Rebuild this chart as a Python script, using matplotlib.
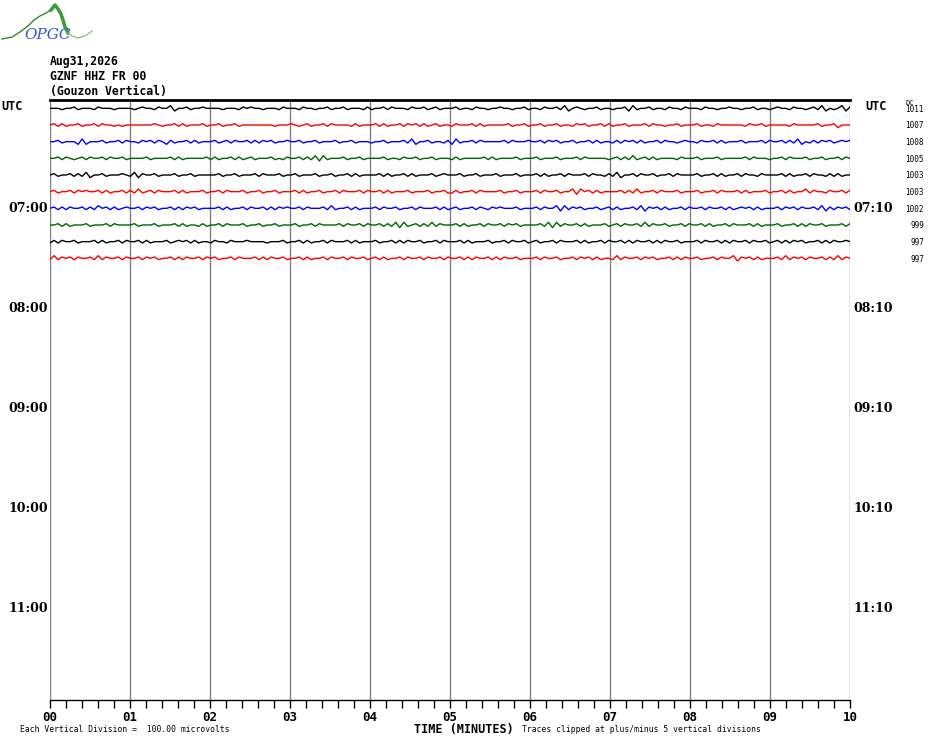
import numpy as np
import matplotlib
matplotlib.use('Agg')
import matplotlib.pyplot as plt
import matplotlib.transforms as mtransforms

# header text
date_txt = 'Aug31,2026'
station_txt = 'GZNF HHZ FR 00'
site_txt = '(Gouzon Vertical)'

# hour labels, one per 6 traces (10 min each)
left_hours = ['UTC', '07:00', '08:00', '09:00', '10:00', '11:00']
right_hours = ['UTC', '07:10', '08:10', '09:10', '10:10', '11:10']
n_rows = 36

# DC offset printed for each recorded line
dc_vals = [1011, 1007, 1008, 1005, 1003, 1003, 1002, 999, 997, 997]

minute_labels = ['00', '01', '02', '03', '04', '05', '06', '07', '08', '09', '10']

# trace colours cycle
trace_cols = ['black', 'red', 'blue', 'darkgreen']

# traces, one char per 3 s sample, 4 = zero line,
# each step = 8 microvolts
tr0 = ("44434453444354443444" "43454435446244534454" "44434443545443444354" "44354434453445344435"
       "34453544435445345344" "45344354434454434453" "44354453624543445344" "34452634453443544354"
       "44354434454434453443" "45443544345362434625")
tr1 = ("45353445344535443434" "44444454344535344453" "44534453444444443444" "54345344535444435344"
       "45353445354535345344" "35444535344444534453" "44534453443545344535" "34453444535443445344"
       "45344354444443544534" "44443544444534452444")
tr2 = ("44534442624445344535" "44354535425344535344" "45345354453535453445" "44534453444534453444"
       "34453444536244534435" "26344535444445354445" "44535453445344535344" "35354535344535443454"
       "43544535344453444535" "44535362435354534545")
tr3 = ("44535434535445354453" "44445344445353444445" "35344535345344453435" "44535362634445344534"
       "44453443544534453444" "35344444535344445344" "45344453444535444443" "45353634535344443544"
       "45344453444445354443" "44535444534453445354")
tr4 = ("45344535362445344454" "36254453444534453444" "44534453444535444534" "45344453445344535344"
       "44535344535344453454" "44534453444534445344" "45353445354445354435" "36244535445344535444"
       "45344535344535443544" "44535344535443535344")
tr5 = ("45344535454453534453" "53634535444535344453" "44535444534453445344" "45353445344535444535"
       "44535344453444534453" "35344535444453445344" "45354453446264535344" "44535363445354445344"
       "45344535444535344453" "44535344635443544535")
tr6 = ("45353544535364535345" "44535453445353545344" "44535344535445353545" "44535444536344535344"
       "45354453445354445353" "45344535435454445344" "45354462635453445345" "35344536254535344535"
       "44535445353454535344" "45354535445362535453")
tr7 = ("44535344453444535444" "45344453444535344353" "44535444534453445344" "45344535444453544535"
       "44535362634535363544" "45353445354453545344" "44536263544535344453" "45354453635445344535"
       "44535344535444535344" "45344535354453444535")
tr8 = ("35354453444535344535" "44535344453454535344" "35443544454444344453" "44535344535444535344"
       "45344535354453445354" "44535344453445354453" "45344535444535344535" "44535354453535445344"
       "45354453535445354453" "45353545344535354454")
tr9 = ("36354535445363544535" "44535453445353544535" "45344535444535354453" "44535344535445354453"
       "45353445354453544535" "44535354453535445344" "45354453445354535344" "36354453545344535354"
       "45344535446254535344" "45363545354453536354")
traces = [tr0, tr1, tr2, tr3, tr4, tr5, tr6, tr7, tr8, tr9]

# logo outline (OPGC mountain), pixel-ish units from the top-left corner
logo_x = [2, 12, 20, 28, 34, 40, 46, 51, 55, 58, 61, 63, 65, 68, 72, 78, 85, 92]
logo_y = [39, 37, 32, 26, 20, 16, 13, 10, 5, 9, 14, 20, 27, 33, 36, 38, 36, 31]

W, H = 930, 744
fig = plt.figure(figsize=(W / 100, H / 100), dpi=100)
ax = fig.add_axes([50 / W, 1 - 700 / H, 800 / W, 600 / H])
ax.set_xlim(0, 10)
ax.set_ylim(n_rows - 0.5, -0.5)

# minute grid lines
for m in range(11):
    ax.axvline(m, color='#808080', lw=1.0, zorder=1)

uv_per_div = 100.0
for i, s in enumerate(traces):
    amp = (np.array([int(c) for c in s]) - 4) * 8.0
    t = np.arange(len(amp)) * 10.0 / (len(amp) - 1)
    ax.plot(t, i - amp / uv_per_div, color=trace_cols[i % 4], lw=1.0, zorder=3)

for side in ['left', 'right']:
    ax.spines[side].set_visible(False)
ax.spines['top'].set_linewidth(2)
ax.spines['bottom'].set_linewidth(1)
ax.set_yticks([])
ax.set_xticks(range(11))
ax.set_xticklabels(minute_labels, fontsize=9, fontweight='bold', family='DejaVu Sans Mono')
ax.set_xticks(np.arange(0, 10.01, 0.2), minor=True)
ax.tick_params(axis='x', which='both', direction='out', length=6, width=1, pad=2)

# hour labels
trans = mtransforms.blended_transform_factory(fig.transFigure, ax.transData)
for k in range(6):
    row = 6 * k
    if k == 0:
        ax.text(1 / W, row - 0.1, left_hours[k], transform=trans, ha='left', va='center',
                fontsize=8.5, fontweight='bold', family='DejaVu Sans Mono')
        ax.text(865 / W, row - 0.1, right_hours[k], transform=trans, ha='left', va='center',
                fontsize=8.5, fontweight='bold', family='DejaVu Sans Mono')
    else:
        ax.text(48 / W, row, left_hours[k], transform=trans, ha='right', va='center',
                fontsize=9, fontweight='bold', family='DejaVu Serif')
        ax.text(853 / W, row, right_hours[k], transform=trans, ha='left', va='center',
                fontsize=9, fontweight='bold', family='DejaVu Serif')

# DC values
for i, v in enumerate(dc_vals):
    ax.text(924 / W, i + 0.05, str(v), transform=trans, ha='right', va='center',
            fontsize=5.5, family='DejaVu Sans Mono')
ax.text(905 / W, -0.35, 'DC', transform=trans, ha='left', va='center',
        fontsize=5, family='DejaVu Sans Mono')

# header
mono = dict(family='DejaVu Sans Mono', fontsize=8.3, fontweight='bold', ha='left', va='center')
fig.text(50 / W, 1 - 61 / H, date_txt, **mono)
fig.text(50 / W, 1 - 76 / H, station_txt, **mono)
fig.text(50 / W, 1 - 91 / H, site_txt, **mono)

# bottom notes
fig.text(20 / W, 1 - 729 / H, 'Each Vertical Division =  100.00 microvolts',
         family='DejaVu Sans Mono', fontsize=5.8, ha='left', va='center')
fig.text(414 / W, 1 - 729 / H, 'TIME (MINUTES)', family='DejaVu Sans Mono',
         fontsize=8.5, fontweight='bold', ha='left', va='center')
fig.text(522 / W, 1 - 729 / H, 'Traces clipped at plus/minus 5 vertical divisions',
         family='DejaVu Sans Mono', fontsize=5.8, ha='left', va='center')

# logo
lax = fig.add_axes([0, 1 - 45 / H, 95 / W, 45 / H])
lax.set_xlim(0, 95)
lax.set_ylim(45, 0)
lax.axis('off')
lax.plot(logo_x[:8], logo_y[:8], color='#2e8b2e', lw=1.0)
lax.plot(logo_x[7:14], logo_y[7:14], color='#3a9a3a', lw=2.5)
lax.plot(logo_x[13:], logo_y[13:], color='#8fc48f', lw=1.0)
lax.text(48, 35, 'OPGC', color='#3355cc', fontsize=11, style='italic',
         family='DejaVu Serif', ha='center', va='center')

fig.savefig('out.png', dpi=100)
